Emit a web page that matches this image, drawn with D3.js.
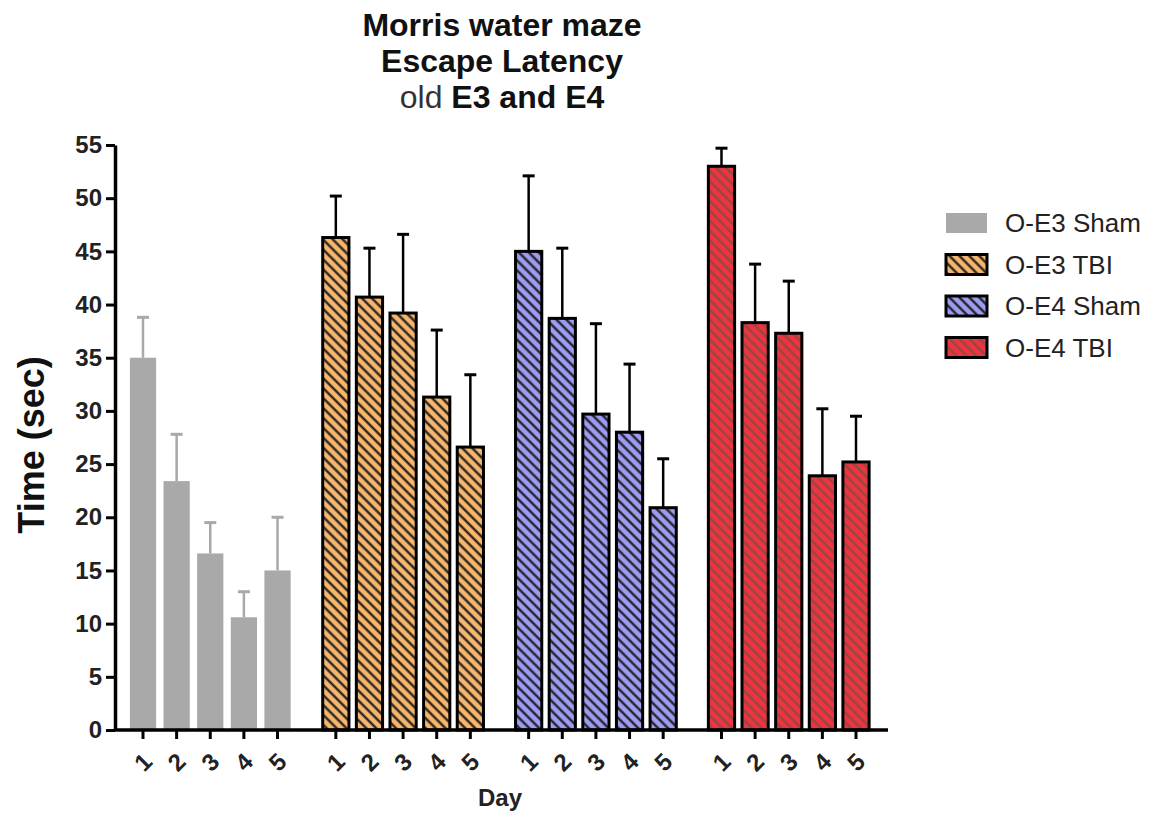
<!DOCTYPE html>
<html>
<head>
<meta charset="utf-8">
<script src="https://cdn.jsdelivr.net/npm/d3@7"></script>
<style>
  body { margin: 0; background: #fff; }
  text { font-family: "Liberation Sans", Arial, sans-serif; }
</style>
</head>
<body>
<div id="chart"></div>
<script>
// data
const groups = ["O-E3 Sham", "O-E3 TBI", "O-E4 Sham", "O-E4 TBI"];
const days = ["1", "2", "3", "4", "5"];
const shamE3 = [35.0, 23.4, 16.6, 10.6, 15.0];
const shamE3Sem = [3.8, 4.4, 2.9, 2.4, 5.0];
const tbiE3 = [46.3, 40.7, 39.2, 31.3, 26.6];
const tbiE3Sem = [3.9, 4.6, 7.4, 6.3, 6.8];
const shamE4 = [45.0, 38.7, 29.7, 28.0, 20.9];
const shamE4Sem = [7.1, 6.6, 8.5, 6.4, 4.6];
const tbiE4 = [53.0, 38.3, 37.3, 23.9, 25.2];
const tbiE4Sem = [1.7, 5.5, 4.9, 6.3, 4.3];
const yTicks = [0, 5, 10, 15, 20, 25, 30, 35, 40, 45, 50, 55];

const series = [
  { name: groups[0], mean: shamE3, sem: shamE3Sem, fill: "#a9a9a9", hatch: null, stroke: "none", err: "#a9a9a9" },
  { name: groups[1], mean: tbiE3, sem: tbiE3Sem, fill: "#f7b66c", hatch: "#1a1a1a", stroke: "#000", err: "#000" },
  { name: groups[2], mean: shamE4, sem: shamE4Sem, fill: "#9d9cf2", hatch: "#1a1a1a", stroke: "#000", err: "#000" },
  { name: groups[3], mean: tbiE4, sem: tbiE4Sem, fill: "#f0343f", hatch: "#8a4a46", stroke: "#000", err: "#000" }
];

const W = 1151, H = 818;
const svg = d3.select("#chart").append("svg")
  .attr("width", W).attr("height", H);

// hatch patterns
const defs = svg.append("defs");
series.forEach((s, i) => {
  const p = defs.append("pattern")
    .attr("id", "hatch" + i)
    .attr("patternUnits", "userSpaceOnUse")
    .attr("width", 7).attr("height", 7)
    .attr("patternTransform", "rotate(-45)");
  p.append("rect").attr("width", 7).attr("height", 7).attr("fill", s.fill);
  if (s.hatch) {
    p.append("line")
      .attr("x1", 1.5).attr("y1", 0).attr("x2", 1.5).attr("y2", 7)
      .attr("stroke", s.hatch).attr("stroke-width", 2.2);
  }
});

const plotL = 115, plotR = 884, plotT = 145, plotB = 730;

const y = d3.scaleLinear().domain([0, 55]).range([plotB, plotT]);
const x0 = d3.scaleBand().domain(groups).range([plotL, plotR])
  .paddingInner(0.128).paddingOuter(0.058);
const x1 = d3.scaleBand().domain(days).range([0, x0.bandwidth()])
  .paddingInner(0.22).paddingOuter(0.11);

// title
const title = svg.append("text").attr("text-anchor", "middle")
  .attr("font-size", 32).attr("font-weight", "bold").attr("fill", "#111");
title.append("tspan").attr("x", 502).attr("y", 36).text("Morris water maze");
title.append("tspan").attr("x", 502).attr("y", 72).text("Escape Latency");
const t3 = title.append("tspan").attr("x", 502).attr("y", 108);
t3.append("tspan").attr("font-weight", "normal").attr("fill", "#333").text("old ");
t3.append("tspan").text("E3 and E4");

// bars
const g = svg.append("g");
series.forEach((s, i) => {
  const gx = x0(s.name);
  const rows = days.map((d, j) => ({ day: d, mean: s.mean[j], sem: s.sem[j] }));
  const bg = g.append("g").attr("transform", `translate(${gx},0)`);

  // error bars (upper only)
  bg.selectAll("line.err").data(rows).enter().append("line")
    .attr("class", "err")
    .attr("x1", d => x1(d.day) + x1.bandwidth() / 2)
    .attr("x2", d => x1(d.day) + x1.bandwidth() / 2)
    .attr("y1", d => y(d.mean))
    .attr("y2", d => y(d.mean + d.sem))
    .attr("stroke", s.err).attr("stroke-width", 2.5);
  bg.selectAll("line.cap").data(rows).enter().append("line")
    .attr("class", "cap")
    .attr("x1", d => x1(d.day) + x1.bandwidth() / 2 - 6)
    .attr("x2", d => x1(d.day) + x1.bandwidth() / 2 + 6)
    .attr("y1", d => y(d.mean + d.sem))
    .attr("y2", d => y(d.mean + d.sem))
    .attr("stroke", s.err).attr("stroke-width", 3);

  bg.selectAll("rect").data(rows).enter().append("rect")
    .attr("x", d => x1(d.day))
    .attr("y", d => y(d.mean))
    .attr("width", x1.bandwidth())
    .attr("height", d => y(0) - y(d.mean))
    .attr("fill", `url(#hatch${i})`)
    .attr("stroke", s.stroke)
    .attr("stroke-width", 3);
});

// y axis
const yAxis = svg.append("g")
  .attr("transform", `translate(${plotL},0)`)
  .call(d3.axisLeft(y).tickValues(yTicks).tickSize(9).tickSizeOuter(0).tickPadding(4));
yAxis.select(".domain").attr("stroke", "#000").attr("stroke-width", 3.5);
yAxis.selectAll(".tick line").attr("stroke", "#000").attr("stroke-width", 3);
yAxis.selectAll(".tick text")
  .attr("font-size", 24).attr("font-weight", "bold").attr("fill", "#222")
  .attr("font-family", "Liberation Sans, Arial, sans-serif");

// x axis
const xAxisG = svg.append("g").attr("transform", `translate(0,${plotB})`);
xAxisG.append("line").attr("x1", plotL).attr("x2", plotR + 4)
  .attr("stroke", "#000").attr("stroke-width", 3.5);
groups.forEach(gname => {
  const ax = xAxisG.append("g").attr("transform", `translate(${x0(gname)},0)`)
    .call(d3.axisBottom(x1).tickSize(9).tickSizeOuter(0).tickPadding(10));
  ax.select(".domain").remove();
  ax.selectAll(".tick line").attr("stroke", "#000").attr("stroke-width", 3);
  ax.selectAll(".tick text")
    .attr("font-size", 24).attr("font-weight", "bold").attr("fill", "#222")
    .attr("font-family", "Liberation Sans, Arial, sans-serif")
    .attr("text-anchor", "middle")
    .attr("dy", "0.35em")
    .attr("transform", "translate(0,32) rotate(-45)")
    .attr("y", 0);
});

// axis titles
svg.append("text")
  .attr("transform", `translate(44,445) rotate(-90)`)
  .attr("text-anchor", "middle")
  .attr("font-size", 36).attr("font-weight", "bold").attr("fill", "#111")
  .text("Time (sec)");
svg.append("text")
  .attr("x", 500).attr("y", 806)
  .attr("text-anchor", "middle")
  .attr("font-size", 24).attr("font-weight", "bold").attr("fill", "#222")
  .text("Day");

// legend
const legend = svg.append("g").attr("transform", "translate(946,213)");
series.forEach((s, i) => {
  const lg = legend.append("g").attr("transform", `translate(0,${i * 41.5})`);
  lg.append("rect").attr("width", 41).attr("height", 20)
    .attr("fill", `url(#hatch${i})`)
    .attr("stroke", s.stroke).attr("stroke-width", s.stroke === "none" ? 0 : 3);
  lg.append("text").attr("x", 59).attr("y", 10).attr("dy", "0.35em")
    .attr("font-size", 26).attr("fill", "#222").text(s.name);
});
</script>
</body>
</html>
